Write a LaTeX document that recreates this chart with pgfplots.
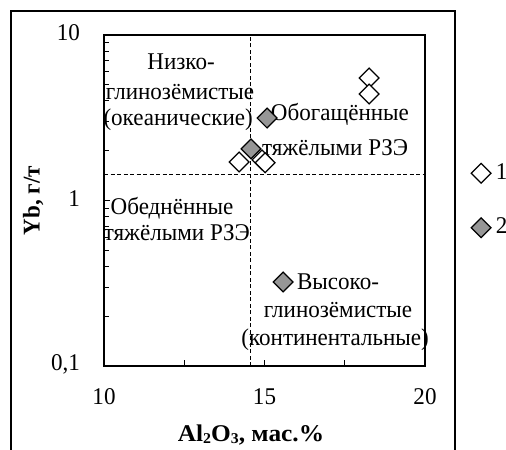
\documentclass[border=0pt]{standalone}
\usepackage{fontspec}
\setmainfont{Liberation Serif}[FakeStretch=0.96]
\usepackage{graphicx}
\usepackage{pgfplots}
\pgfplotsset{compat=1.18}
\definecolor{mgrey}{RGB}{150,150,150}
\newcommand{\sub}[1]{{\fontsize{15bp}{15bp}\selectfont\raisebox{-2bp}{#1}}}
\begin{document}
\fontsize{24bp}{28bp}\selectfont
\begin{tikzpicture}[font=\fontsize{24bp}{28bp}\selectfont]
\begin{axis}[
  at={(104bp,84bp)}, anchor=south west,
  scale only axis, width=321bp, height=331bp,
  xmin=10, xmax=20, ymode=log, ymin=0.1, ymax=10,
  xtick={10,12.5,15,17.5,20}, xticklabels={10,,15,,20},
  ytick={0.1,1,10}, yticklabels={{0,1},1,10},
  tick pos=left, tick align=inside,
  major tick length=6bp, minor tick length=5bp,
  axis line style={line width=1.2bp},
  every tick/.style={black, line width=0.8bp},
  xticklabel style={yshift=-14bp},
  yticklabel style={xshift=-16bp, yshift=2bp},
  xlabel={\scalebox{1.1}[1]{\textbf{Al\sub{2}O\sub{3}, мас.\%}}},
  xlabel style={at={(axis description cs:0.458,-0.2266)}, anchor=base},
  ylabel={\textbf{Yb, г/т}},
  ylabel style={at={(axis description cs:-0.221,0.5)}, anchor=center},
  clip=false,
  legend style={at={(axis description cs:1,0.5)}, anchor=west, xshift=46bp,
    draw=none, fill=none, inner sep=0pt, row sep=31bp,
    font=\fontsize{24bp}{28bp}\selectfont},
  legend cell align=left,
]
\addplot[forget plot, black, line width=0.9bp, dash pattern=on 4bp off 2.5bp] coordinates {(14.55,0.1) (14.55,10)};
\addplot[forget plot, black, line width=0.9bp, dash pattern=on 4bp off 2.5bp] coordinates {(10,1.445) (20,1.445)};
\addplot[only marks, mark=square*, mark size=7bp,
  mark options={rotate=45, fill=white, draw=black, line width=1.2bp}]
  coordinates {(18.26,5.50) (18.26,4.40) (14.21,1.71) (14.92,1.76) (15.02,1.69)};
\addplot[only marks, mark=square*, mark size=7bp,
  mark options={rotate=45, fill=mgrey, draw=black, line width=1.2bp}]
  coordinates {(15.08,3.15) (14.58,2.05) (15.58,0.322)};
\legend{\hspace{3bp}1,\hspace{3bp}2}
\node at (axis cs:12.40,6.87) {Низко-};
\node at (axis cs:12.37,4.52) {глинозёмистые};
\node at (axis cs:12.31,3.06) {(океанические)};
\node at (axis cs:17.35,3.33) {Обогащённые};
\node at (axis cs:17.20,2.08) {тяжёлыми РЗЭ};
\node at (axis cs:12.12,0.901) {Обеднённые};
\node at (axis cs:12.27,0.636) {тяжёлыми РЗЭ};
\node at (axis cs:17.29,0.322) {Высоко-};
\node at (axis cs:17.29,0.218) {глинозёмистые};
\node at (axis cs:17.20,0.1436) {(континентальные)};
\end{axis}
\draw[line width=1.3bp] (11bp,-20bp) -- (11bp,439bp) -- (455bp,439bp) -- (455bp,-20bp);
\pgfresetboundingbox
\useasboundingbox (0,0) rectangle (506bp,450bp);
\end{tikzpicture}
\end{document}
